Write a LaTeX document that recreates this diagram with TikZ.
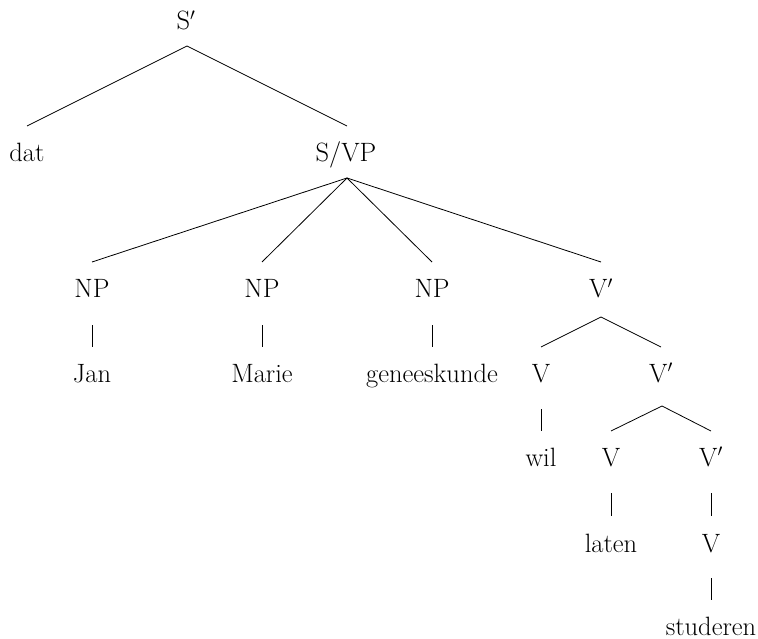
\documentclass[tikz,border=0pt]{standalone}
\begin{document}
\begin{tikzpicture}[x=1pt,y=-1pt,
  lbl/.style={anchor=base,inner sep=0pt,font=\fontsize{26.5}{31}\selectfont},
  edge/.style={line width=0.8pt}]
\useasboundingbox (0,0) rectangle (758,639);
\node[lbl] (Sp) at (186,30) {S$'$};
\node[lbl] (dat) at (27,162) {dat};
\node[lbl] (SVP) at (346,162) {S/VP};
\node[lbl] (NPa) at (92,298) {NP};
\node[lbl] (NPb) at (262,298) {NP};
\node[lbl] (NPc) at (432,298) {NP};
\node[lbl] (Vba) at (601,298) {V$'$};
\node[lbl] (Jan) at (92,382) {Jan};
\node[lbl] (Marie) at (262,382) {Marie};
\node[lbl] (gen) at (432,382) {geneeskunde};
\node[lbl] (Va) at (541,382) {V};
\node[lbl] (Vbb) at (661,382) {V$'$};
\node[lbl] (wil) at (541,466) {wil};
\node[lbl] (Vb) at (611,466) {V};
\node[lbl] (Vbc) at (711,466) {V$'$};
\node[lbl] (laten) at (611,552) {laten};
\node[lbl] (Vc) at (711,552) {V};
\node[lbl] (stud) at (711,635) {studeren};
% S'
\draw[edge] ([xshift=1pt,yshift=-16pt]Sp.base) -- ([yshift=36pt]dat.base);
\draw[edge] ([xshift=1pt,yshift=-16pt]Sp.base) -- ([xshift=1pt,yshift=36pt]SVP.base);
% S/VP
\foreach \c in {NPa,NPb,NPc,Vba}
  \draw[edge] ([xshift=1pt,yshift=-16pt]SVP.base) -- ([yshift=36pt]\c.base);
% NP bars
\draw[edge] ([yshift=-27pt]NPa.base) -- ([yshift=35pt]Jan.base);
\draw[edge] ([yshift=-27pt]NPb.base) -- ([yshift=35pt]Marie.base);
\draw[edge] ([yshift=-27pt]NPc.base) -- ([yshift=35pt]gen.base);
% V' 1
\draw[edge] ([yshift=-19pt]Vba.base) -- ([yshift=35pt]Va.base);
\draw[edge] ([yshift=-19pt]Vba.base) -- ([yshift=35pt]Vbb.base);
\draw[edge] ([yshift=-27pt]Va.base) -- ([yshift=35pt]wil.base);
% V' 2
\draw[edge] ([xshift=1pt,yshift=-24pt]Vbb.base) -- ([yshift=35pt]Vb.base);
\draw[edge] ([xshift=1pt,yshift=-24pt]Vbb.base) -- ([yshift=35pt]Vbc.base);
\draw[edge] ([yshift=-27pt]Vb.base) -- ([yshift=36pt]laten.base);
\draw[edge] ([yshift=-27pt]Vbc.base) -- ([yshift=36pt]Vc.base);
\draw[edge] ([yshift=-26pt]Vc.base) -- ([yshift=35pt]stud.base);
\end{tikzpicture}
\end{document}
